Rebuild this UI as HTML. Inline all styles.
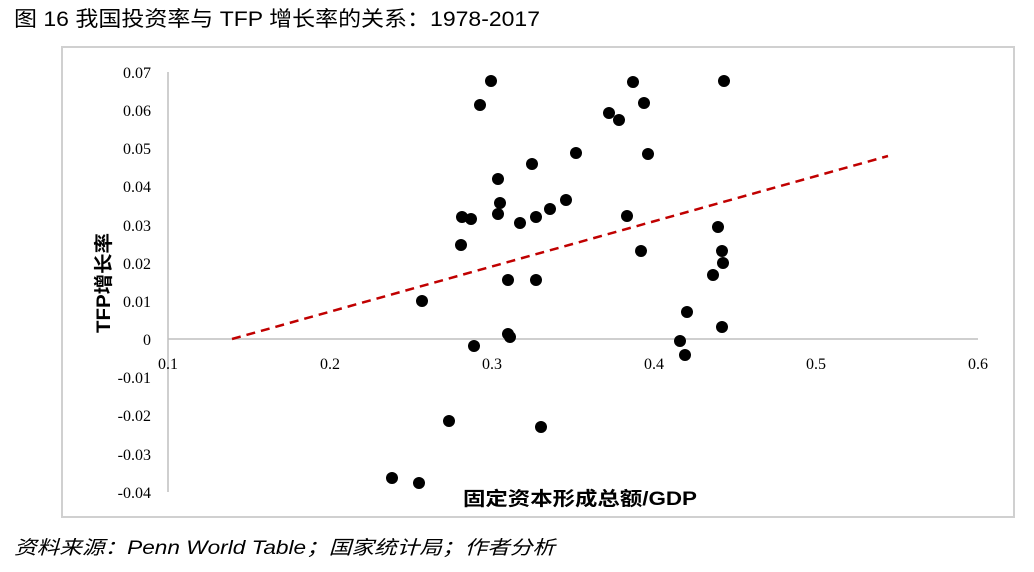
<!DOCTYPE html>
<html><head><meta charset="utf-8"><style>
body{margin:0;background:#fff;width:1034px;height:567px;overflow:hidden}
</style></head><body>
<svg width="1034" height="567" xmlns="http://www.w3.org/2000/svg">
<text x="14" y="26" textLength="526" lengthAdjust="spacingAndGlyphs" font-family="Liberation Sans, Noto Sans CJK SC, sans-serif" font-size="21" fill="#000">图 16 我国投资率与 TFP 增长率的关系：1978-2017</text>
<rect x="62" y="47" width="952" height="470" fill="none" stroke="#d0d0d0" stroke-width="2"/>
<g stroke="#bfbfbf" stroke-width="1.5">
<line x1="168" y1="72" x2="168" y2="492"/>
<line x1="168" y1="339" x2="978" y2="339"/>
</g>
<g font-family="Liberation Serif, serif" font-size="16" fill="#000" text-anchor="end">
<text x="151" y="78">0.07</text><text x="151" y="116">0.06</text><text x="151" y="154">0.05</text>
<text x="151" y="192">0.04</text><text x="151" y="231">0.03</text><text x="151" y="269">0.02</text>
<text x="151" y="307">0.01</text><text x="151" y="345">0</text><text x="151" y="383">-0.01</text>
<text x="151" y="421">-0.02</text><text x="151" y="460">-0.03</text><text x="151" y="498">-0.04</text>
</g>
<g font-family="Liberation Serif, serif" font-size="16" fill="#000" text-anchor="middle">
<text x="168" y="369">0.1</text><text x="330" y="369">0.2</text><text x="492" y="369">0.3</text>
<text x="654" y="369">0.4</text><text x="816" y="369">0.5</text><text x="978" y="369">0.6</text>
</g>
<text transform="translate(110,283) rotate(-90)" text-anchor="middle" textLength="100" lengthAdjust="spacingAndGlyphs" font-family="Liberation Sans, Noto Sans CJK SC, sans-serif" font-size="19" font-weight="bold">TFP增长率</text>
<text x="463" y="505" textLength="234" lengthAdjust="spacingAndGlyphs" font-family="Liberation Sans, Noto Sans CJK SC, sans-serif" font-size="19" font-weight="bold">固定资本形成总额/GDP</text>
<line x1="232" y1="339" x2="888" y2="156" stroke="#c00000" stroke-width="2.5" stroke-dasharray="9,6"/>
<g fill="#000">
<circle cx="491" cy="81" r="6"/><circle cx="480" cy="105" r="6"/><circle cx="633" cy="82" r="6"/><circle cx="724" cy="81" r="6"/>
<circle cx="609" cy="113" r="6"/><circle cx="619" cy="120" r="6"/><circle cx="644" cy="103" r="6"/><circle cx="576" cy="153" r="6"/>
<circle cx="648" cy="154" r="6"/><circle cx="532" cy="164" r="6"/><circle cx="498" cy="179" r="6"/><circle cx="500" cy="203" r="6"/>
<circle cx="566" cy="200" r="6"/><circle cx="550" cy="209" r="6"/><circle cx="462" cy="217" r="6"/><circle cx="471" cy="219" r="6"/>
<circle cx="498" cy="214" r="6"/><circle cx="536" cy="217" r="6"/><circle cx="627" cy="216" r="6"/><circle cx="520" cy="223" r="6"/>
<circle cx="718" cy="227" r="6"/><circle cx="461" cy="245" r="6"/><circle cx="641" cy="251" r="6"/><circle cx="722" cy="251" r="6"/>
<circle cx="723" cy="263" r="6"/><circle cx="508" cy="280" r="6"/><circle cx="536" cy="280" r="6"/><circle cx="713" cy="275" r="6"/>
<circle cx="422" cy="301" r="6"/><circle cx="687" cy="312" r="6"/><circle cx="722" cy="327" r="6"/><circle cx="508" cy="334" r="6"/>
<circle cx="510" cy="337" r="6"/><circle cx="680" cy="341" r="6"/><circle cx="474" cy="346" r="6"/><circle cx="685" cy="355" r="6"/>
<circle cx="449" cy="421" r="6"/><circle cx="541" cy="427" r="6"/><circle cx="392" cy="478" r="6"/><circle cx="419" cy="483" r="6"/>
</g>
<text x="14" y="554" textLength="541" lengthAdjust="spacingAndGlyphs" font-family="Liberation Sans, Noto Sans CJK SC, sans-serif" font-size="19" font-style="italic" fill="#000">资料来源：Penn World Table；国家统计局；作者分析</text>
</svg>
</body></html>
